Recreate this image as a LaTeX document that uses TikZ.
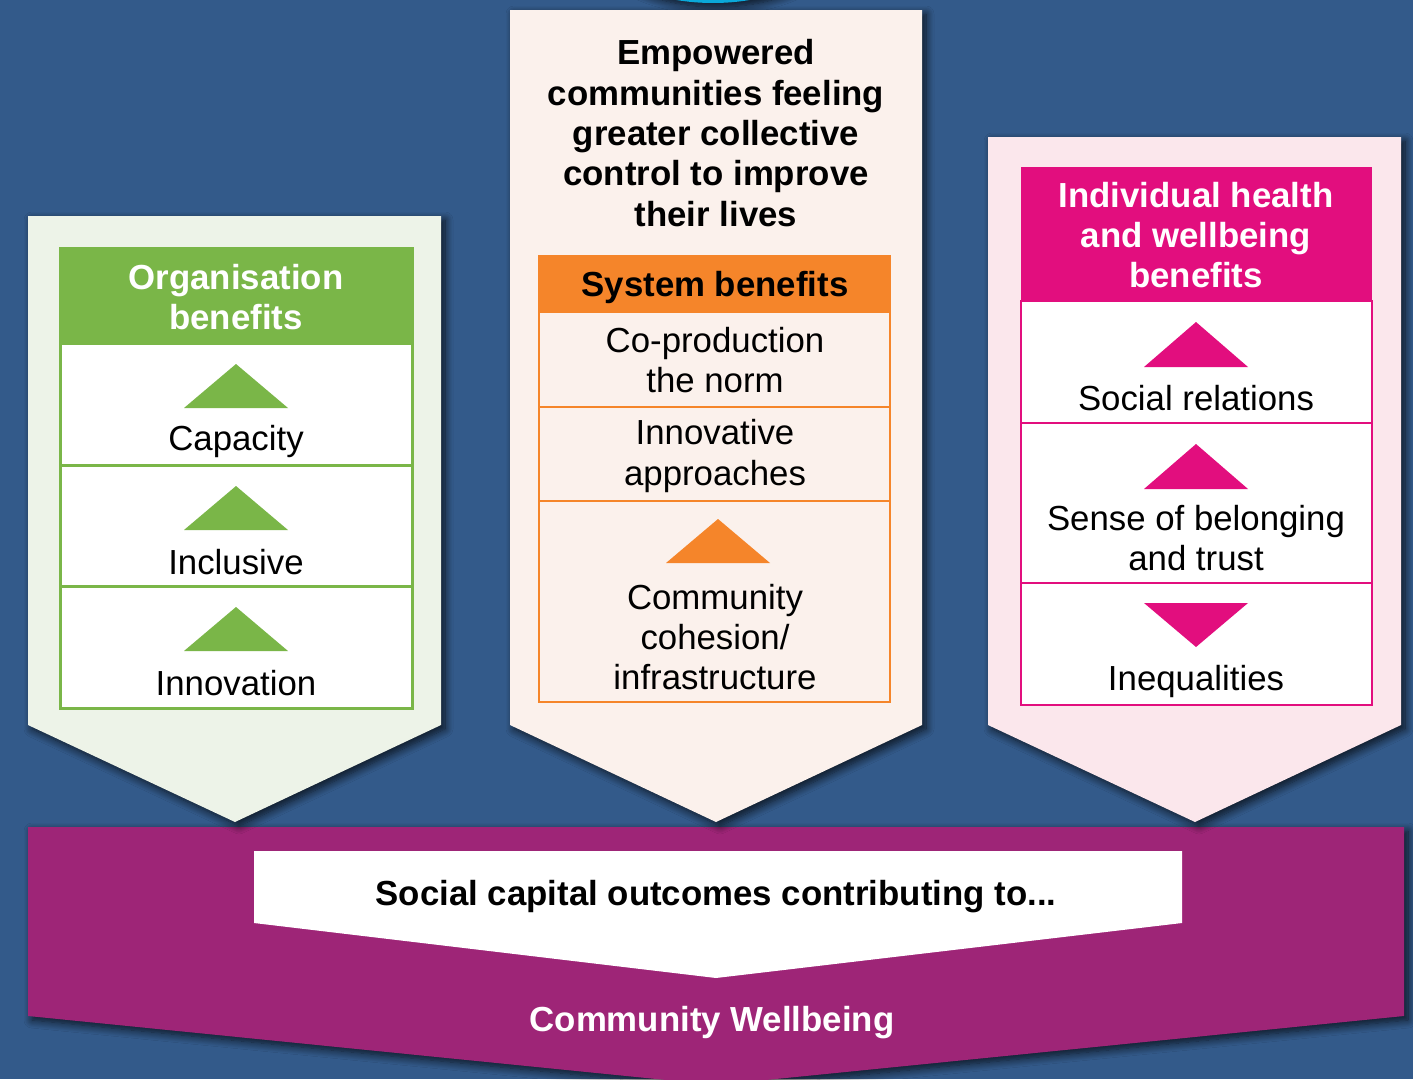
\documentclass[tikz,border=0pt]{standalone}
\usepackage{fontspec}
\setmainfont{Liberation Sans}
\usetikzlibrary{shadows.blur}

\definecolor{bg}{RGB}{51,90,138}
\definecolor{orggreen}{RGB}{122,182,72}
\definecolor{orgpale}{RGB}{237,243,232}
\definecolor{sysorange}{RGB}{245,133,42}
\definecolor{syspale}{RGB}{251,241,236}
\definecolor{indpink}{RGB}{226,14,126}
\definecolor{indpale}{RGB}{251,231,236}
\definecolor{bandpurple}{RGB}{158,37,119}
\definecolor{topcyan}{RGB}{10,168,218}

\begin{document}
\begin{tikzpicture}[x=1pt,y=-1pt,
  softshadow/.style={blur shadow={shadow xshift=4pt, shadow yshift=-4pt,
      shadow blur radius=8pt, shadow blur steps=10, shadow opacity=75}},
  txt/.style={font=\fontsize{34.8}{40.4}\selectfont, align=center, inner sep=0pt, text=black},
  boldtxt/.style={txt, font=\fontsize{34.8}{40.4}\selectfont\bfseries},
  framegreen/.style={draw=orggreen, line width=3pt},
  frameorange/.style={draw=sysorange, line width=2.5pt},
  framepink/.style={draw=indpink, line width=2.5pt}]

% canvas
\useasboundingbox (0,0) rectangle (1413,1079);
\clip (0,0) rectangle (1413,1079);
\fill[bg] (0,0) rectangle (1413,1079);

% shape peeking in at the top edge
\fill[topcyan, softshadow] (713,-60) ellipse [x radius=120, y radius=63];

% bottom band
\fill[bandpurple, softshadow] (28,827) -- (1404,827) -- (1404,1016) -- (716,1085) -- (28,1016) -- cycle;
\fill[white] (254,851) -- (1182,851) -- (1182,923) -- (716,978) -- (254,923) -- cycle;
\node[boldtxt] (social) at (716,897) {Social capital outcomes contributing to...};
\node[boldtxt, text=white] (wellbeing) at (712,1023) {Community Wellbeing};

% three chevrons
\fill[orgpale, softshadow] (28,216) -- (441,216) -- (441,725) -- (235,822) -- (28,725) -- cycle;
\fill[syspale, softshadow] (510,10) -- (922,10) -- (922,725) -- (716,822) -- (510,725) -- cycle;
\fill[indpale, softshadow] (988,137) -- (1401,137) -- (1401,725) -- (1195,822) -- (988,725) -- cycle;

% organisation benefits
\fill[white] (60,248) rectangle (412,708);
\fill[orggreen] (60,248) rectangle (412,345);
\draw[framegreen] (60,248) rectangle (412,708);
\draw[framegreen] (60,465) -- (412,465) (60,586) -- (412,586);
\fill[orggreen] (184,408) -- (236,364) -- (288,408) -- cycle;
\fill[orggreen] (184,530) -- (236,486) -- (288,530) -- cycle;
\fill[orggreen] (184,651) -- (236,607) -- (288,651) -- cycle;
\node[boldtxt, text=white] (orghead) at (236,297) {Organisation\\benefits};
\node[txt] (capacity) at (236,441) {Capacity};
\node[txt] (inclusive) at (236,562) {Inclusive};
\node[txt] (innovation) at (236,683) {Innovation};

% system benefits
\node[boldtxt] (empowered) at (716,133) {Empowered\\communities feeling\\greater collective\\control to improve\\their lives};
\fill[syspale] (539,312) rectangle (890,702);
\fill[sysorange] (539,256) rectangle (890,312);
\draw[frameorange] (539,256) rectangle (890,702);
\draw[frameorange] (539,312) -- (890,312) (539,407) -- (890,407) (539,501) -- (890,501);
\fill[sysorange] (666,563) -- (718,519) -- (770,563) -- cycle;
\node[boldtxt] (syshead) at (715,287) {System benefits};
\node[txt] (coprod) at (715,360) {Co-production\\the norm};
\node[txt] (innovative) at (715,456) {Innovative\\approaches};
\node[txt] (cohesion) at (715,637) {Community\\cohesion/\\infrastructure};

% individual health and wellbeing benefits
\fill[white] (1021,167) rectangle (1372,705);
\fill[indpink] (1021,167) rectangle (1372,301);
\draw[framepink] (1021,301) rectangle (1372,705);
\draw[framepink] (1021,423) -- (1372,423) (1021,583) -- (1372,583);
\fill[indpink] (1144,367) -- (1196,322) -- (1248,367) -- cycle;
\fill[indpink] (1144,489) -- (1196,444) -- (1248,489) -- cycle;
\fill[indpink] (1144,603) -- (1248,603) -- (1196,647) -- cycle;
\node[boldtxt, text=white] (indhead) at (1196,235) {Individual health\\and wellbeing\\benefits};
\node[txt] (relations) at (1196,398) {Social relations};
\node[txt] (belonging) at (1196,538) {Sense of belonging\\and trust};
\node[txt] (inequal) at (1196,681) {Inequalities};
\end{tikzpicture}
\end{document}
